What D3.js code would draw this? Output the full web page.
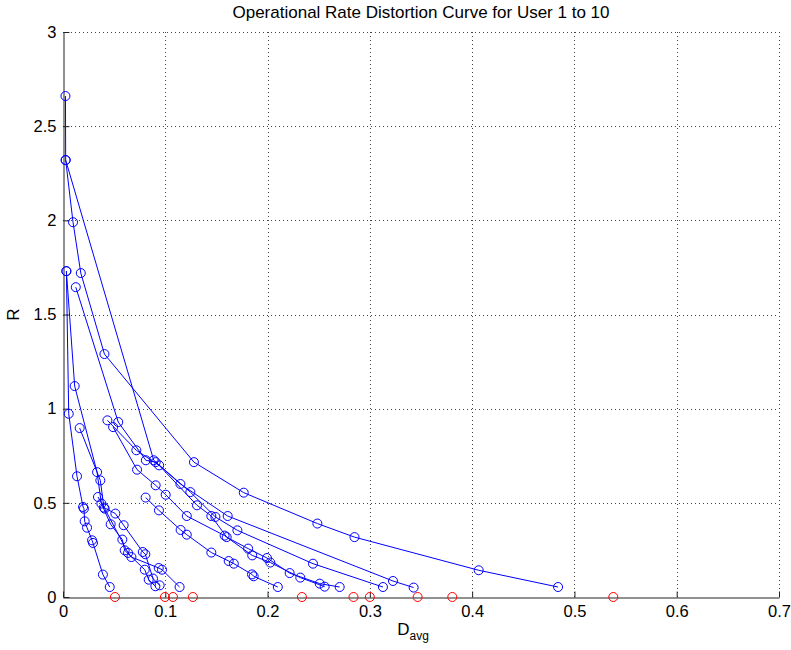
<!DOCTYPE html>
<html>
<head>
<meta charset="utf-8">
<script src="https://cdn.jsdelivr.net/npm/d3@7"></script>
<style>
  body { margin: 0; background: #fff; }
  svg { font-family: "Liberation Sans", Arial, sans-serif; }
  .grid line { stroke: #444; stroke-dasharray: 1,3; }
  .axis path, .axis line { stroke: #222; }
  .axis text { font-size: 16.5px; fill: #000; }
</style>
</head>
<body>
<svg id="chart" width="791" height="650"></svg>
<script>
// Operational rate distortion, one curve per user (D_avg, R)

var xTicks = [0, 0.1, 0.2, 0.3, 0.4, 0.5, 0.6, 0.7]
  , yTicks = [0, 0.5, 1, 1.5, 2, 2.5, 3]
  ;

var D1 = [0.0033, 0.0056, 0.0137, 0.0196, 0.0205, 0.0212, 0.0235, 0.0284, 0.0293, 0.039, 0.0457]
  , R1 = [1.73, 0.973, 0.641, 0.478, 0.469, 0.402, 0.368, 0.301, 0.287, 0.119, 0.053];
var D2 = [0.0033, 0.0114, 0.0333, 0.0375, 0.0466, 0.058, 0.0603, 0.0799, 0.0838, 0.0903]
  , R2 = [1.73, 1.12, 0.663, 0.496, 0.386, 0.305, 0.248, 0.145, 0.092, 0.057];
var D3 = [0.0163, 0.0365, 0.040, 0.0512, 0.0593, 0.078, 0.0805, 0.088, 0.0945]
  , R3 = [0.897, 0.619, 0.475, 0.443, 0.381, 0.239, 0.227, 0.098, 0.062];
var D4 = [0.0342, 0.0408, 0.0636, 0.0669, 0.0936, 0.0968, 0.114]
  , R4 = [0.531, 0.469, 0.234, 0.212, 0.154, 0.145, 0.053];
var D5 = [0.0808, 0.0938, 0.115, 0.121, 0.145, 0.162, 0.167, 0.1848, 0.1864, 0.210]
  , R5 = [0.528, 0.460, 0.356, 0.331, 0.236, 0.191, 0.177, 0.120, 0.110, 0.053];
var D6 = [0.049, 0.0724, 0.0906, 0.1004, 0.121, 0.158, 0.185, 0.2027, 0.232, 0.2558]
  , R6 = [0.902, 0.676, 0.593, 0.543, 0.430, 0.326, 0.221, 0.183, 0.103, 0.055];
var D7 = [0.0434, 0.0717, 0.094, 0.131, 0.145, 0.160, 0.181, 0.1994, 0.2216, 0.251, 0.2705]
  , R7 = [0.938, 0.779, 0.699, 0.487, 0.430, 0.318, 0.257, 0.207, 0.127, 0.071, 0.053];
var D8 = [0.0125, 0.054, 0.081, 0.0906, 0.1245, 0.149, 0.1705, 0.2444, 0.3128]
  , R8 = [1.645, 0.929, 0.726, 0.716, 0.557, 0.425, 0.354, 0.177, 0.053];
var D9 = [0.0026, 0.0887, 0.1148, 0.161, 0.3226, 0.3428]
  , R9 = [2.32, 0.726, 0.600, 0.430, 0.085, 0.050];
var D10 = [0.0024, 0.0026, 0.0098, 0.0174, 0.0405, 0.128, 0.1767, 0.2487, 0.285, 0.4064, 0.484]
  , R10 = [2.66, 2.32, 1.99, 1.72, 1.29, 0.716, 0.554, 0.39, 0.318, 0.142, 0.053];

// distortion of each user at zero rate (red markers)
var zeroRateD = [0.0508, 0.0997, 0.1075, 0.127, 0.2336, 0.284, 0.300, 0.3467, 0.3806, 0.538];

var users = [[D1, R1], [D2, R2], [D3, R3], [D4, R4], [D5, R5],
             [D6, R6], [D7, R7], [D8, R8], [D9, R9], [D10, R10]];

// plot box (note: "top" is taken by window.top)
var plotLeft = 63, plotRight = 779, plotTop = 32, plotBottom = 597;

var svg = d3.select("#chart");

var x = d3.scaleLinear().domain([0, 0.7]).range([plotLeft, plotRight])
  , y = d3.scaleLinear().domain([0, 3]).range([plotBottom, plotTop])
  ;

// Dotted grid
var grid = svg.append("g").attr("class", "grid");
xTicks.slice(1).forEach(function (t) {
  grid.append("line")
      .attr("x1", Math.round(x(t)) + 0.5).attr("x2", Math.round(x(t)) + 0.5)
      .attr("y1", plotTop).attr("y2", plotBottom);
});
yTicks.slice(1).forEach(function (t) {
  grid.append("line")
      .attr("x1", plotLeft).attr("x2", plotRight)
      .attr("y1", Math.round(y(t)) + 0.5).attr("y2", Math.round(y(t)) + 0.5);
});

// Axes, ticks pointing inwards
svg.append("g")
   .attr("class", "axis")
   .attr("transform", "translate(0," + (plotBottom + 0.5) + ")")
   .call(d3.axisBottom(x).tickValues(xTicks).tickFormat(d3.format("")).tickSizeInner(-6).tickSizeOuter(0).tickPadding(8));

svg.append("g")
   .attr("class", "axis")
   .attr("transform", "translate(" + (plotLeft + 0.5) + ",0)")
   .call(d3.axisLeft(y).tickValues(yTicks).tickFormat(d3.format("")).tickSizeInner(-6).tickSizeOuter(0).tickPadding(7));

// Curves
var line = d3.line().x(function (d) { return x(d[0]); }).y(function (d) { return y(d[1]); });

users.forEach(function (u) {
  var pts = u[0].map(function (d, i) { return [d, u[1][i]]; });
  svg.append("path")
     .datum(pts)
     .attr("d", line)
     .attr("fill", "none")
     .attr("stroke", "#0000ff")
     .attr("stroke-width", 1);
  svg.append("g").selectAll("circle")
     .data(pts)
     .enter().append("circle")
     .attr("cx", function (d) { return x(d[0]); })
     .attr("cy", function (d) { return y(d[1]); })
     .attr("r", 4.5)
     .attr("fill", "none")
     .attr("stroke", "#0000ff")
     .attr("stroke-width", 1);
});

svg.append("g").selectAll("circle")
   .data(zeroRateD)
   .enter().append("circle")
   .attr("cx", function (d) { return x(d); })
   .attr("cy", y(0))
   .attr("r", 4.5)
   .attr("fill", "none")
   .attr("stroke", "#ff0000")
   .attr("stroke-width", 1);

// Labels
svg.append("text")
   .attr("x", (plotLeft + plotRight) / 2)
   .attr("y", 18)
   .attr("text-anchor", "middle")
   .attr("font-size", 17)
   .text("Operational Rate Distortion Curve for User 1 to 10");

svg.append("text")
   .attr("transform", "translate(19," + ((plotTop + plotBottom) / 2) + ") rotate(-90)")
   .attr("text-anchor", "middle")
   .attr("font-size", 17)
   .text("R");

var xl = svg.append("text")
   .attr("x", 413)
   .attr("y", 635)
   .attr("text-anchor", "middle")
   .attr("font-size", 17);
xl.append("tspan").text("D");
xl.append("tspan").attr("font-size", 12).attr("dy", 5).text("avg");
</script>
</body>
</html>
